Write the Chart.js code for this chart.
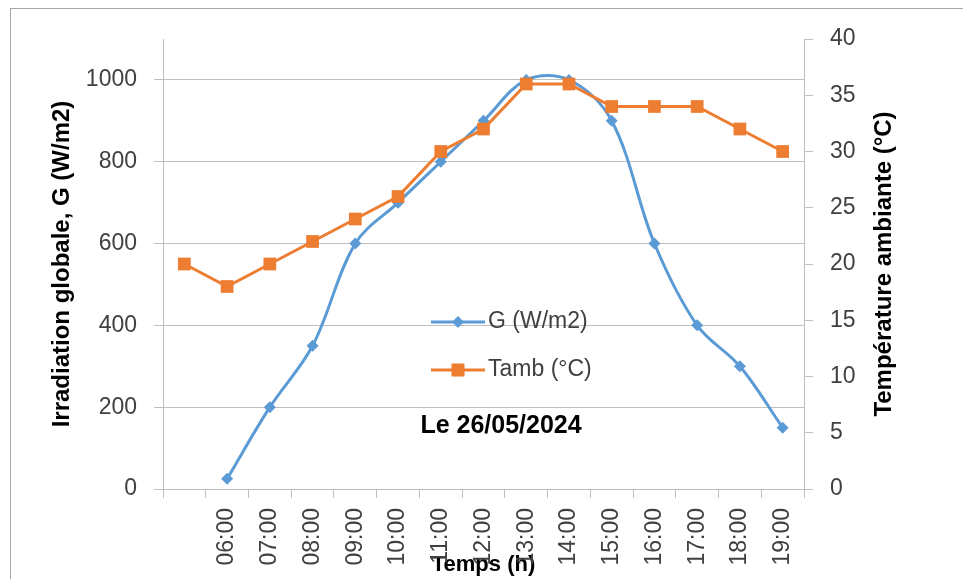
<!DOCTYPE html>
<html lang="fr">
<head>
<meta charset="utf-8">
<title>Irradiation globale et température ambiante</title>
<script src="https://cdn.jsdelivr.net/npm/chart.js@4.4.1/dist/chart.umd.min.js"></script>
<style>
  html, body { margin: 0; padding: 0; background: #fff; overflow: hidden; }
  #cadre { width: 963px; height: 579px; }
</style>
</head>
<body>
<div id="cadre"><canvas id="grafique" width="963" height="579"></canvas></div>
<script>
// Données
const heures = ['', '06:00', '07:00', '08:00', '09:00', '10:00', '11:00', '12:00',
  '13:00', '14:00', '15:00', '16:00', '17:00', '18:00', '19:00'];
const irradiation = [null, 25, 200, 350, 600, 700, 800, 900, 1000, 1000, 900, 600, 400, 300, 150];
const tempAmbiante = [20, 18, 20, 22, 24, 26, 30, 32, 36, 36, 34, 34, 34, 32, 30];

const nomG = 'G (W/m2)';
const nomTamb = 'Tamb (°C)';
const titreX = 'Temps (h)';
const titreG = 'Irradiation globale, G (W/m2)';
const titreT = 'Température ambiante (°C)';
const dateMesure = 'Le 26/05/2024';

const bleu = '#5b9bd5';
const orange = '#ed7d31';
const gris = '#bfbfbf';
const texte = '#404040';

Chart.defaults.font.family = '"Liberation Sans", Arial, sans-serif';
Chart.defaults.color = texte;

// Petits dessins : cadre, titre de droite, légende et date
const decor = {
  id: 'decor',
  beforeDraw(chart) {
    const ctx = chart.ctx;
    ctx.save();
    ctx.fillStyle = '#fff';
    ctx.fillRect(0, 0, chart.width, chart.height);
    ctx.strokeStyle = '#a6a6a6';
    ctx.lineWidth = 1;
    ctx.strokeRect(10.5, 8.5, chart.width + 20, chart.height + 20);
    ctx.restore();
  },
  afterDraw(chart) {
    const ctx = chart.ctx;
    const a = chart.chartArea;
    const droite = chart.scales.y1;

    // titre de l'axe de droite (lu de bas en haut)
    ctx.save();
    ctx.translate(droite.right - 79, (a.top + a.bottom) / 2);
    ctx.rotate(-Math.PI / 2);
    ctx.font = 'bold 24px "Liberation Sans"';
    ctx.fillStyle = '#000';
    ctx.textAlign = 'center';
    ctx.textBaseline = 'middle';
    ctx.fillText(titreT, 0, 0);
    ctx.restore();

    // légende dans la zone du graphique
    const x0 = a.left + 268;
    const items = [
      { nom: nomG, couleur: bleu, forme: 'losange', y: a.top + 283 },
      { nom: nomTamb, couleur: orange, forme: 'carre', y: a.top + 331 }
    ];
    ctx.save();
    items.forEach(it => {
      ctx.strokeStyle = it.couleur;
      ctx.fillStyle = it.couleur;
      ctx.lineWidth = 3;
      ctx.beginPath();
      ctx.moveTo(x0, it.y);
      ctx.lineTo(x0 + 54, it.y);
      ctx.stroke();
      const cx = x0 + 27;
      ctx.beginPath();
      if (it.forme === 'losange') {
        ctx.moveTo(cx, it.y - 6);
        ctx.lineTo(cx + 6, it.y);
        ctx.lineTo(cx, it.y + 6);
        ctx.lineTo(cx - 6, it.y);
        ctx.closePath();
      } else {
        ctx.rect(cx - 6.5, it.y - 6.5, 13, 13);
      }
      ctx.fill();
      ctx.fillStyle = texte;
      ctx.font = '23px "Liberation Sans"';
      ctx.textAlign = 'left';
      ctx.textBaseline = 'middle';
      ctx.fillText(it.nom, x0 + 57, it.y);
    });

    // date de la mesure
    ctx.fillStyle = '#000';
    ctx.font = 'bold 25px "Liberation Sans"';
    ctx.textAlign = 'center';
    ctx.fillText(dateMesure, a.left + 338, a.top + 387);
    ctx.restore();
  }
};

new Chart(document.getElementById('grafique'), {
  type: 'line',
  data: {
    labels: heures,
    datasets: [
      {
        label: nomG,
        data: irradiation,
        yAxisID: 'y',
        borderColor: bleu,
        backgroundColor: bleu,
        borderWidth: 3,
        pointStyle: 'rectRot',
        pointRadius: 6,
        pointBorderWidth: 0,
        tension: 0.35,
        order: 2
      },
      {
        label: nomTamb,
        data: tempAmbiante,
        yAxisID: 'y1',
        borderColor: orange,
        backgroundColor: orange,
        borderWidth: 3,
        pointStyle: 'rect',
        pointRadius: 9,
        pointBorderWidth: 0,
        tension: 0,
        order: 1
      }
    ]
  },
  options: {
    responsive: false,
    devicePixelRatio: 1,
    animation: false,
    events: [],
    layout: { padding: { top: 39, left: 0, right: 0, bottom: 0 } },
    plugins: {
      legend: { display: false },
      tooltip: { enabled: false }
    },
    scales: {
      x: {
        offset: true,
        grid: { offset: true, drawOnChartArea: false, color: gris, tickLength: 9 },
        border: { color: gris },
        ticks: {
          autoSkip: false, maxRotation: 90, minRotation: 90, padding: 10,
          font: { size: 23 }
        },
        title: {
          display: true, text: titreX, color: '#000',
          font: { size: 22, weight: 'bold' }, padding: { top: 0, bottom: 1 }
        },
        afterFit(s) { s.height = 90; }
      },
      y: {
        position: 'left',
        min: 0, max: 1100,
        grid: { color: gris, tickLength: 9 },
        border: { color: gris },
        ticks: {
          stepSize: 200, includeBounds: false, padding: 17, font: { size: 23 },
          callback: v => String(v)
        },
        title: {
          display: true, text: titreG, color: '#000',
          font: { size: 24, weight: 'bold' }, padding: { top: 48, bottom: 0 }
        },
        afterFit(s) { s.width = 163; }
      },
      y1: {
        position: 'right',
        min: 0, max: 40,
        grid: { drawOnChartArea: false, color: gris, tickLength: 9 },
        border: { color: gris },
        ticks: { stepSize: 5, padding: 17, font: { size: 23 }, callback: v => String(v) },
        afterFit(s) { s.width = 159; }
      }
    }
  },
  plugins: [decor]
});
</script>
</body>
</html>
